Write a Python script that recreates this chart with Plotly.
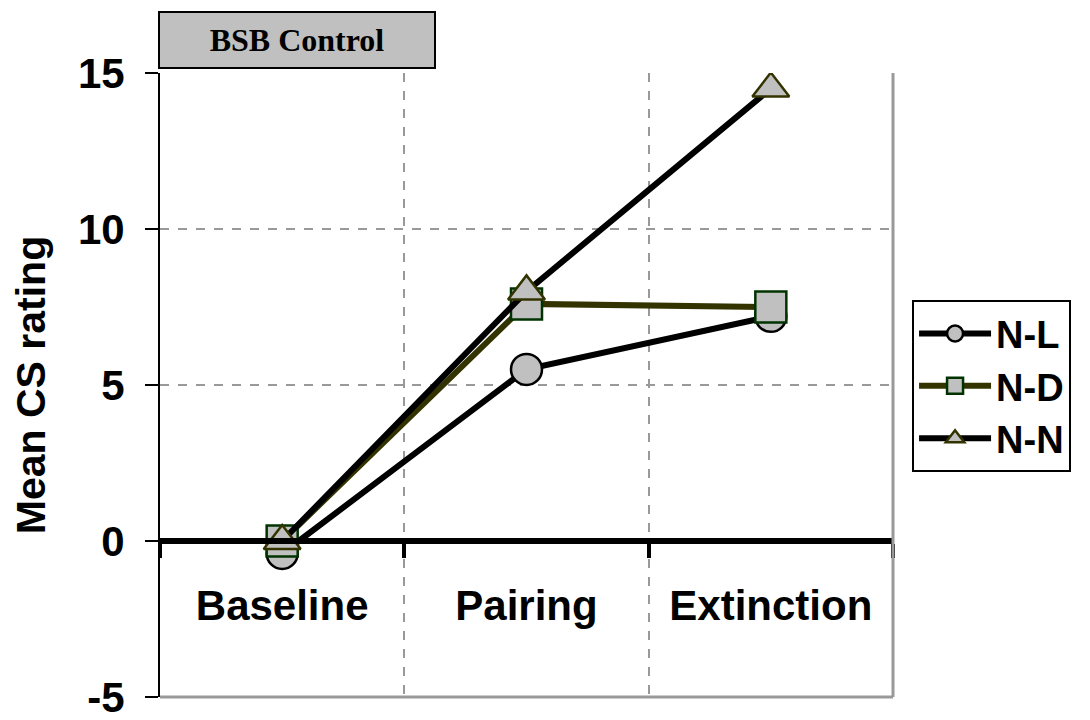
import plotly.graph_objects as go

phases = ["Baseline", "Pairing", "Extinction"]
n_l = [-0.4, 5.5, 7.2]
n_d = [0.0, 7.6, 7.5]
n_n = [0.0, 8.0, 14.5]
y_ticks = [-5, 0, 5, 10, 15]
y_ticktext = ["-5", "0", "5", "10", "15"]

FONT = "Liberation Sans, Arial, sans-serif"
GRID = "#999999"
FILL = "#c0c0c0"

fig = go.Figure()
fig.add_trace(go.Scatter(
    x=phases, y=n_l, name="N-L", mode="lines+markers",
    line=dict(color="black", width=6),
    marker=dict(symbol="circle", size=31, color=FILL, line=dict(color="black", width=2.5)),
))
fig.add_trace(go.Scatter(
    x=phases, y=n_d, name="N-D", mode="lines+markers",
    line=dict(color="#333300", width=6),
    marker=dict(symbol="square", size=31, color=FILL, line=dict(color="#003300", width=2.5)),
))
fig.add_trace(go.Scatter(
    x=phases, y=n_n, name="N-N", mode="lines+markers",
    line=dict(color="black", width=6),
    marker=dict(symbol="triangle-up", size=32, color=FILL, line=dict(color="#333300", width=2.5)),
))

# page body has an 8px margin, so the figure is sized to fit the window
fig.update_layout(
    width=1082, height=712,
    paper_bgcolor="white", plot_bgcolor="white",
    margin=dict(l=152, r=197, t=65, b=23),
    font=dict(family=FONT, color="black", size=30),
    showlegend=True,
    legend=dict(
        x=1.026, xanchor="left", y=0.498, yanchor="middle",
        bgcolor="white", bordercolor="black", borderwidth=2,
        font=dict(family=FONT, size=38, color="black", weight="bold"),
        itemwidth=72,
    ),
    xaxis=dict(
        type="category", range=[-0.5, 2.5],
        anchor="free", position=0.25, automargin=False,
        showline=True, linecolor="black", linewidth=6,
        ticks="outside", ticklen=14, tickwidth=4, tickcolor="black",
        tickson="boundaries", ticklabelstandoff=26,
        tickfont=dict(family=FONT, size=42, color="black", weight="bold"),
        showgrid=True, gridcolor=GRID, gridwidth=2, griddash="dash",
        zeroline=False, fixedrange=True,
    ),
    yaxis=dict(
        range=[-5, 15], tickvals=y_ticks, ticktext=y_ticktext, automargin="left",
        showline=True, linecolor="black", linewidth=2,
        ticks="outside", ticklen=13, tickwidth=2, tickcolor="black",
        ticklabelstandoff=12, ticklabeloverflow="allow",
        tickfont=dict(family=FONT, size=42, color="black", weight="bold"),
        showgrid=True, gridcolor=GRID, gridwidth=2, griddash="dash",
        zeroline=False,
        title=dict(text="<b>Mean CS rating</b>", font=dict(family=FONT, size=41), standoff=20),
    ),
)

# grey frame on the right and bottom of the plot area
fig.add_shape(type="line", xref="x domain", yref="y domain", x0=1, x1=1, y0=0, y1=1,
              line=dict(color=GRID, width=3))
fig.add_shape(type="line", xref="x domain", yref="y domain", x0=0, x1=1, y0=0, y1=0,
              line=dict(color=GRID, width=3))

fig.add_annotation(
    text="<b>BSB Control</b>", xref="paper", yref="paper",
    x=-0.003, xanchor="left", y=1.006, yanchor="bottom",
    showarrow=False, width=272, height=52,
    bgcolor=FILL, bordercolor="black", borderwidth=2,
    font=dict(family="Liberation Serif, Times New Roman, serif", size=32, color="black"),
)

fig.write_html("out.html")
